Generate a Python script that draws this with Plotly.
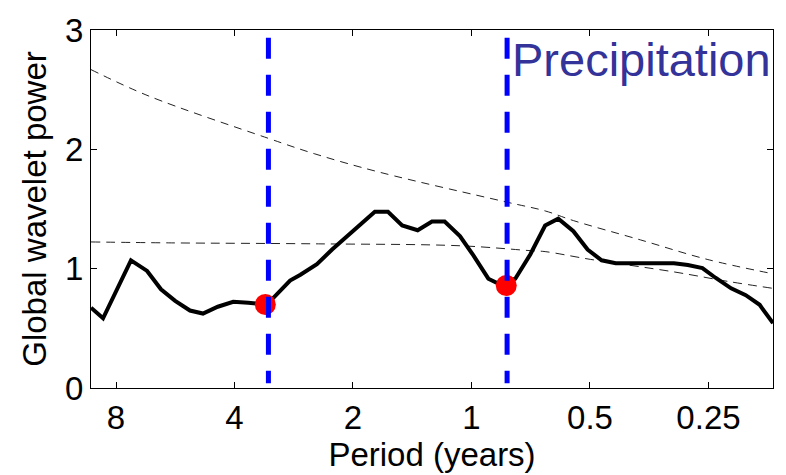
import math
import plotly.graph_objects as go

# Global wavelet spectrum (black line)
period = [9.26, 8.63, 7.33, 6.67, 6.15, 5.66, 5.19, 4.81, 4.41, 4.03, 3.69, 3.34, 3.19,
          2.89, 2.72, 2.47, 2.26, 2.09, 1.92, 1.76, 1.63, 1.50, 1.37, 1.26, 1.17, 1.07,
          0.989, 0.906, 0.840, 0.774, 0.709, 0.650, 0.602, 0.551, 0.507, 0.467, 0.430,
          0.394, 0.306, 0.282, 0.259, 0.240, 0.219, 0.201, 0.1853, 0.1714]
power = [0.673, 0.584, 1.070, 0.981, 0.827, 0.730, 0.649, 0.624, 0.681, 0.722, 0.714,
         0.700, 0.754, 0.900, 0.949, 1.038, 1.160, 1.257, 1.362, 1.476, 1.476, 1.362,
         1.322, 1.395, 1.395, 1.273, 1.111, 0.916, 0.862, 0.916, 1.119, 1.362, 1.419,
         1.314, 1.160, 1.070, 1.046, 1.046, 1.046, 1.030, 1.005, 0.924, 0.835, 0.778,
         0.697, 0.543]

# Upper dashed curve
upper_period = [9.26, 6.63, 3.28, 2.50, 1.71, 0.812, 0.650, 0.551, 0.372, 0.252, 0.1714]
upper_power = [2.668, 2.449, 2.092, 1.962, 1.808, 1.557, 1.484, 1.403, 1.241, 1.078, 0.957]

# Lower dashed curve
lower_period = [9.26, 5.79, 2.45, 1.07, 0.709, 0.650, 0.499, 0.306, 0.222, 0.1714]
lower_power = [1.224, 1.216, 1.208, 1.192, 1.151, 1.143, 1.078, 0.973, 0.892, 0.835]

# Highlighted peaks (red dots) and marker lines (blue dashed)
dot_period = [3.34, 0.816]
dot_power = [0.700, 0.859]
vline_period = [3.28, 0.812]
vline_top = 2.935
vline_bottom = 0.04

tick_vals = [8, 4, 2, 1, 0.5, 0.25]
tick_text = ["8", "4", "2", "1", "0.5", "0.25"]
y_ticks = [0, 1, 2, 3]

x_left, x_right = 9.26, 0.1714

font_family = "Liberation Sans, Arial, sans-serif"

fig = go.Figure()

fig.add_trace(go.Scatter(x=upper_period, y=upper_power, mode="lines", line_shape="spline",
                         line=dict(color="#222222", width=1, dash="8px,6px"),
                         showlegend=False, hoverinfo="skip"))
fig.add_trace(go.Scatter(x=lower_period, y=lower_power, mode="lines", line_shape="spline",
                         line=dict(color="#222222", width=1, dash="9px,6px"),
                         showlegend=False, hoverinfo="skip"))
fig.add_trace(go.Scatter(x=period, y=power, mode="lines",
                         line=dict(color="black", width=4),
                         showlegend=False))
fig.add_trace(go.Scatter(x=dot_period, y=dot_power, mode="markers",
                         marker=dict(color="#FF0000", size=21, line=dict(width=0)),
                         showlegend=False))
for p in vline_period:
    fig.add_trace(go.Scatter(x=[p, p], y=[vline_top, vline_bottom], mode="lines",
                             line=dict(color="#0000FF", width=5, dash="21px,16px"),
                             showlegend=False, hoverinfo="skip"))

fig.add_annotation(text="Precipitation", xref="paper", yref="paper",
                   x=0.615, y=0.917, xanchor="left", yanchor="middle",
                   showarrow=False,
                   font=dict(family=font_family, size=47, color="rgb(51,51,153)"))

axis_common = dict(showline=True, linecolor="black", linewidth=1, mirror="ticks",
                   ticks="inside", ticklen=6, tickcolor="black", showgrid=False,
                   zeroline=False, tickfont=dict(family=font_family, size=33, color="black"))

fig.update_xaxes(type="log", range=[math.log10(x_left), math.log10(x_right)],
                 tickvals=tick_vals, ticktext=tick_text,
                 title=dict(text="Period (years)", standoff=4,
                            font=dict(family=font_family, size=33, color="black")),
                 **axis_common)
fig.update_yaxes(range=[0, 3], tickvals=y_ticks,
                 title=dict(text="Global wavelet power", standoff=8,
                            font=dict(family=font_family, size=33, color="black")),
                 **axis_common)

fig.update_layout(width=786, height=475, margin=dict(l=91, r=13, t=20, b=85),
                  plot_bgcolor="white", paper_bgcolor="white")

fig.write_html("out.html")
